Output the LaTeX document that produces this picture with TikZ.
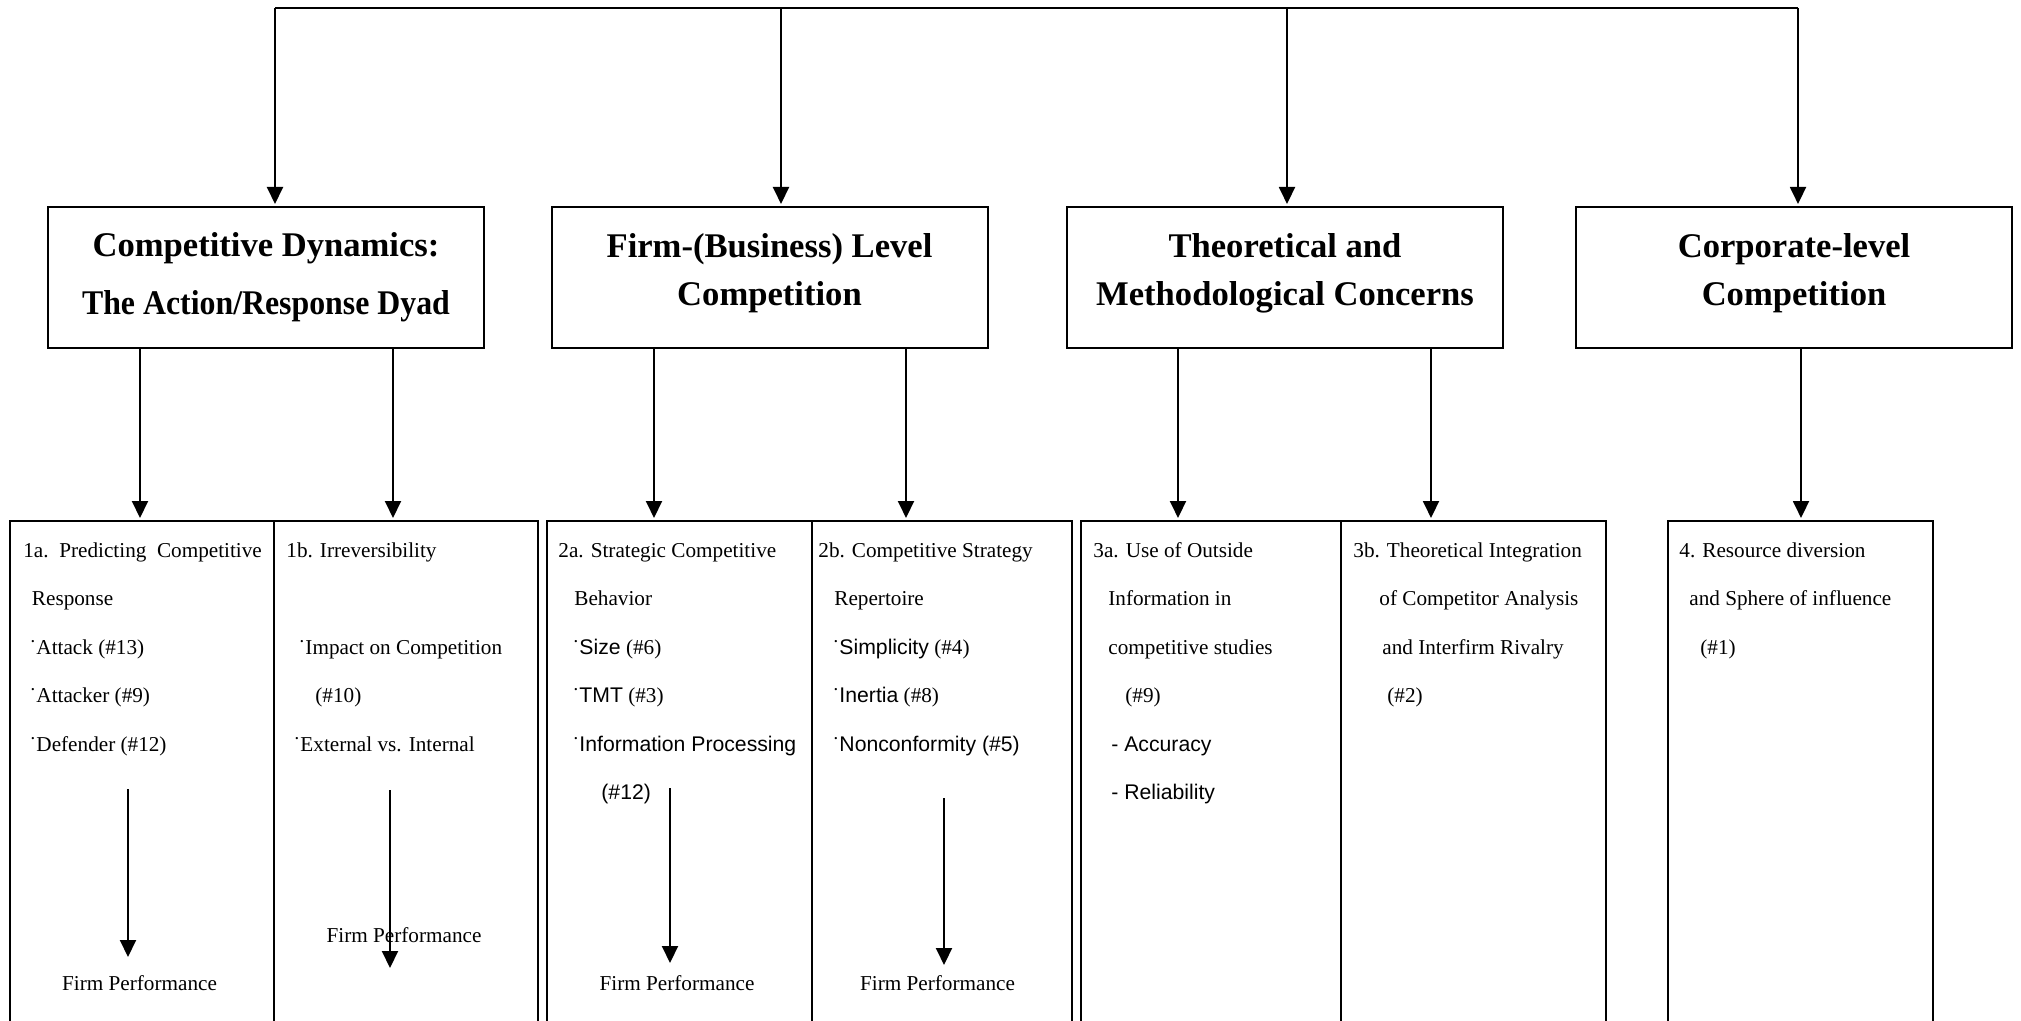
\documentclass[tikz,border=0pt]{standalone}
\usepackage{fontspec}
\setmainfont{Liberation Serif}
\setsansfont{Liberation Sans}
\usepackage{tikz}
\usetikzlibrary{arrows.meta}
\tikzset{
    myhead/.style={rectangle, draw=black, line width=1pt, minimum width=218pt, minimum height=70.5pt, inner sep=0pt, align=center, font=\bfseries\fontsize{17.3}{24}\selectfont},
    mybox/.style={rectangle, draw=black, line width=1pt, anchor=north west, minimum height=262pt, inner sep=0pt},
    mytext/.style={anchor=north west, inner sep=0pt, align=left, font=\fontsize{10.6}{24.2}\selectfont},
    mylabel/.style={anchor=base, inner sep=0pt, font=\fontsize{10.6}{12}\selectfont},
    myarrow/.style={-{Triangle[length=8.5pt,width=8pt]}, line width=1pt, shorten >=1pt}
}
\newcommand{\lowstrut}{\rule[-8pt]{0pt}{8pt}}

\begin{document}
\begin{tikzpicture}[x=0.5pt,y=-0.5pt]
    \useasboundingbox (0,0) rectangle (2021,1021);
    % four research streams
    \draw (266,277.5) node[myhead] (dynamics) {Competitive Dynamics:\\[5pt]\scalebox{0.92}[1]{The Action/Response Dyad}};
    \draw (769.5,277.5) node[myhead] (firmlevel) {Firm-(Business) Level\\Competition\lowstrut};
    \draw (1285,277.5) node[myhead] (concerns) {Theoretical and\\Methodological Concerns\lowstrut};
    \draw (1794,277.5) node[myhead] (corporate) {Corporate-level\\Competition\lowstrut};
    % top bar
    \coordinate (top1) at (275,8);
    \coordinate (top2) at (781,8);
    \coordinate (top3) at (1287,8);
    \coordinate (top4) at (1798,8);
    \draw[line width=1pt] (top1) -- (top4);
    \draw[myarrow] (top1) -- (top1 |- dynamics.north);
    \draw[myarrow] (top2) -- (top2 |- firmlevel.north);
    \draw[myarrow] (top3) -- (top3 |- concerns.north);
    \draw[myarrow] (top4) -- (top4 |- corporate.north);
    % sub topics
    \draw (9,520) node[mybox, minimum width=132pt] (predict) {};
    \draw (273,520) node[mybox, minimum width=132pt] (irrev) {};
    \draw (546,520) node[mybox, minimum width=132.5pt] (behavior) {};
    \draw (811,520) node[mybox, minimum width=130pt] (repertoire) {};
    \draw (1080,520) node[mybox, minimum width=130pt] (outside) {};
    \draw (1340,520) node[mybox, minimum width=132.5pt] (integration) {};
    \draw (1667,520) node[mybox, minimum width=132.5pt] (diversion) {};
    \coordinate (k1a) at (140,0);
    \coordinate (k1b) at (393,0);
    \coordinate (k2a) at (654,0);
    \coordinate (k2b) at (906,0);
    \coordinate (k3a) at (1178,0);
    \coordinate (k3b) at (1431,0);
    \coordinate (k4) at (1801,0);
    \draw[myarrow] (k1a |- dynamics.south) -- (k1a |- predict.north);
    \draw[myarrow] (k1b |- dynamics.south) -- (k1b |- irrev.north);
    \draw[myarrow] (k2a |- firmlevel.south) -- (k2a |- behavior.north);
    \draw[myarrow] (k2b |- firmlevel.south) -- (k2b |- repertoire.north);
    \draw[myarrow] (k3a |- concerns.south) -- (k3a |- outside.north);
    \draw[myarrow] (k3b |- concerns.south) -- (k3b |- integration.north);
    \draw[myarrow] (k4 |- corporate.south) -- (k4 |- diversion.north);
    % box texts
    \node[mytext] (t1a) at (23,541) {\rule{0pt}{8pt}1a.\ \ Predicting\ \ Competitive\\\hspace*{4.3pt}Response\\\hspace*{3pt}˙Attack (\#13)\\\hspace*{3pt}˙Attacker (\#9)\\\hspace*{3pt}˙Defender (\#12)};
    \node[mytext] (t1b) at (286,541) {\rule{0pt}{8pt}1b. Irreversibility\\\mbox{}\\\hspace*{6pt}˙Impact on Competition\\\hspace*{14.5pt}(\#10)\\\hspace*{3.5pt}˙External vs. Internal};
    \node[mytext] (t2a) at (558,541) {\rule{0pt}{8pt}2a. Strategic Competitive\\\hspace*{8pt}Behavior\\\hspace*{7pt}˙\textsf{Size} (\#6)\\\hspace*{7pt}˙\textsf{TMT} (\#3)\\\hspace*{7pt}˙\textsf{Information Processing}\\\hspace*{21.5pt}\textsf{(\#12)}};
    \node[mytext] (t2b) at (818,541) {\rule{0pt}{8pt}2b. Competitive Strategy\\\hspace*{8pt}Repertoire\\\hspace*{7pt}˙\textsf{Simplicity} (\#4)\\\hspace*{7pt}˙\textsf{Inertia} (\#8)\\\hspace*{7pt}˙\textsf{Nonconformity (\#5)}};
    \node[mytext] (t3a) at (1093,541) {\rule{0pt}{8pt}3a. Use of Outside\\\hspace*{7.5pt}Information in\\\hspace*{7.5pt}competitive studies\\\hspace*{16pt}(\#9)\\\hspace*{9pt}\textsf{- Accuracy}\\\hspace*{9pt}\textsf{- Reliability}};
    \node[mytext] (t3b) at (1353,541) {\rule{0pt}{8pt}3b. Theoretical Integration\\\hspace*{13pt}of Competitor Analysis\\\hspace*{14.5pt}and Interfirm Rivalry\\\hspace*{17pt}(\#2)};
    \node[mytext] (t4) at (1679,541) {\rule{0pt}{8pt}4. Resource diversion\\\hspace*{5pt}and Sphere of influence\\\hspace*{10.5pt}(\#1)};
    % outcomes
    \node[mylabel] (perf1a) at (139.5,990) {Firm Performance};
    \node[mylabel] (perf1b) at (404,942) {Firm Performance};
    \node[mylabel] (perf2a) at (677,990) {Firm Performance};
    \node[mylabel] (perf2b) at (937.5,990) {Firm Performance};
    \coordinate (s1a) at (128,789);
    \coordinate (e1a) at (128,959);
    \coordinate (s1b) at (390,790);
    \coordinate (e1b) at (390,970);
    \coordinate (s2a) at (670,788);
    \coordinate (e2a) at (670,965);
    \coordinate (s2b) at (944,798);
    \coordinate (e2b) at (944,967);
    \draw[myarrow] (s1a) -- (e1a);
    \draw[myarrow] (s1b) -- (e1b);
    \draw[myarrow] (s2a) -- (e2a);
    \draw[myarrow] (s2b) -- (e2b);
\end{tikzpicture}
\end{document}
